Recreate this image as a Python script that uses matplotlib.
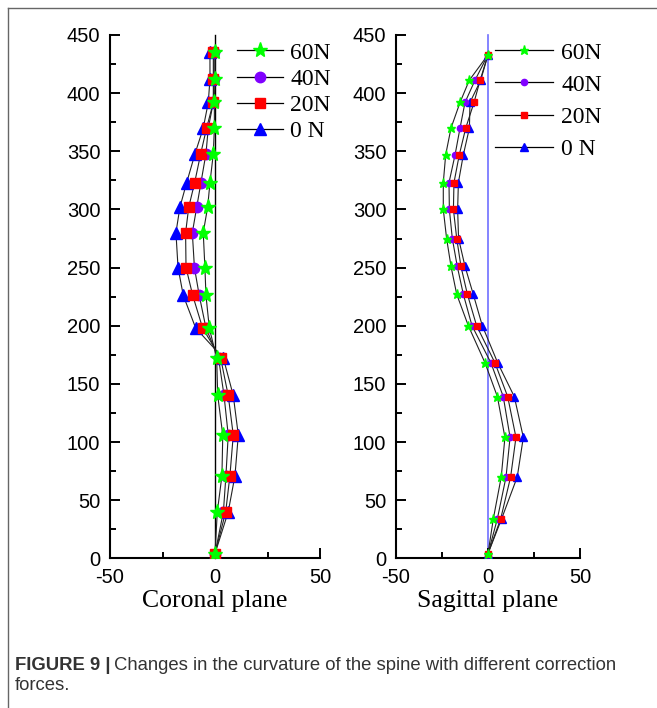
import matplotlib
matplotlib.use("Agg")
import matplotlib.pyplot as plt
from matplotlib.lines import Line2D

plt.rcParams["axes.unicode_minus"] = False

# ---------------- data ----------------
labels = ["60N", "40N", "20N", "0 N"]

cor_y = [435, 412, 392, 370, 348, 323, 302, 280, 250, 226, 198, 172, 140, 106, 71, 40, 4]
cor_60 = [0, 0, -0.3, -0.3, -0.8, -2.4, -3.5, -5.6, -4.8, -4.3, -2.7, 0.8, 1.3, 3.7, 3.3, 1.1, 0]
cor_40 = [-0.5, -0.5, -0.8, -3.2, -4.3, -6.7, -8.7, -10.8, -9.8, -7.5, -4.3, 1.7, 4.3, 6.3, 5.2, 4.0, 0]
cor_20 = [-0.8, -0.8, -0.8, -4.0, -6.8, -9.7, -12.5, -14.0, -13.8, -10.6, -5.9, 2.7, 6.3, 8.7, 7.1, 5.1, 0]
cor_0 = [-2.4, -2.4, -3.2, -5.6, -9.5, -13.5, -16.7, -18.6, -17.6, -15.1, -9.2, 4.0, 8.7, 11.1, 9.5, 6.3, 0]

sag_y = [433, 411, 392, 370, 347, 323, 300, 275, 251, 227, 200, 168, 139, 104, 70, 34, 4]
sag_60 = [0, -10.2, -15.2, -20.1, -23.0, -24.3, -24.3, -22.5, -20.1, -17.0, -10.7, -1.6, 5.1, 9.2, 7.2, 2.9, 0]
sag_40 = [0, -7.1, -12.5, -15.2, -17.9, -21.2, -21.0, -19.4, -16.7, -13.4, -8.7, 1.6, 8.3, 12.0, 9.8, 5.1, 0]
sag_20 = [0, -4.3, -7.6, -12.1, -15.6, -18.5, -18.8, -17.0, -14.7, -11.2, -6.2, 3.8, 10.7, 15.2, 12.3, 6.9, 0]
sag_0 = [0, -4.0, -9.8, -10.1, -13.4, -16.1, -16.5, -16.0, -12.5, -8.0, -3.1, 5.3, 14.3, 19.2, 15.9, 7.4, 0]

x_ticks = [-50, 0, 50]
y_ticks = [0, 50, 100, 150, 200, 250, 300, 350, 400, 450]

# ---------------- style ----------------
W, H = 657, 708
DPI = 100
colors = ["#00ff00", "#8000ff", "#ff0000", "#0000ff"]
markers = ["*", "o", "s", "^"]
sizes_big = [11, 7.5, 7, 8.5]
sizes_small = [6.5, 4.5, 4.5, 5.5]
draw_order = [3, 1, 2, 0]  # 0N first, 60N on top

sans = ["Liberation Sans", "DejaVu Sans"]
serif = ["Liberation Serif", "DejaVu Serif"]

fig = plt.figure(figsize=(W / DPI, H / DPI), dpi=DPI)


def px_axes(x0, x1, ytop, ybot):
    return fig.add_axes([x0 / W, 1 - ybot / H, (x1 - x0) / W, (ybot - ytop) / H])


def style_axes(ax):
    ax.set_xlim(-50, 50)
    ax.set_ylim(0, 450)
    for s in ["top", "right"]:
        ax.spines[s].set_visible(False)
    for s in ["left", "bottom"]:
        ax.spines[s].set_linewidth(1.5)
    ax.set_xticks(x_ticks)
    ax.set_yticks(y_ticks)
    ax.set_xticks([-25, 25], minor=True)
    ax.set_yticks([25 + 50 * i for i in range(9)], minor=True)
    ax.tick_params(which="major", direction="in", length=7.2, width=1.4,
                   labelsize=14.5, pad=7)
    ax.tick_params(which="minor", direction="in", length=4.3, width=1.4)
    for lab in ax.get_xticklabels() + ax.get_yticklabels():
        lab.set_family(sans)
    ax.patch.set_alpha(0)


axL = px_axes(110, 320, 35, 558.3)
axR = px_axes(396, 580, 35, 558.3)

# zero lines
axL.plot([0, 0], [0, 450], color="black", lw=1.0, zorder=1, clip_on=False)
axR.plot([0, 0], [0, 450], color="#6f6fff", lw=1.2, zorder=1, clip_on=False)

series_L = [cor_60, cor_40, cor_20, cor_0]
series_R = [sag_60, sag_40, sag_20, sag_0]

handlesL, handlesR = [None] * 4, [None] * 4
for i in draw_order:
    axL.plot(series_L[i], cor_y, color="#222222", lw=0.8, zorder=2)
    axL.plot(series_L[i], cor_y, linestyle="none", marker=markers[i],
             ms=sizes_big[i], mfc=colors[i], mec=colors[i], zorder=3)
    axR.plot(series_R[i], sag_y, color="#222222", lw=0.8, zorder=2)
    axR.plot(series_R[i], sag_y, linestyle="none", marker=markers[i],
             ms=sizes_small[i], mfc=colors[i], mec=colors[i], zorder=3)
    handlesL[i] = Line2D([], [], color="black", lw=0.9, marker=markers[i],
                         ms=sizes_big[i], mfc=colors[i], mec=colors[i])
    handlesR[i] = Line2D([], [], color="black", lw=0.9, marker=markers[i],
                         ms=sizes_small[i], mfc=colors[i], mec=colors[i])

for ax in (axL, axR):
    style_axes(ax)

axL.set_xlabel("Coronal plane", family=serif, fontsize=18.5, labelpad=2)
axR.set_xlabel("Sagittal plane", family=serif, fontsize=18.5, labelpad=2)

fig.legend(handlesL, labels, loc="upper left",
           bbox_to_anchor=(237 / W, 1 - 42 / H), frameon=False,
           prop={"family": serif, "size": 17}, handlelength=1.95,
           handletextpad=0.3, labelspacing=0.2, borderpad=0,
           borderaxespad=0)
fig.legend(handlesR, labels, loc="upper left",
           bbox_to_anchor=(495 / W, 1 - 42 / H), frameon=False,
           prop={"family": serif, "size": 17}, handlelength=2.45,
           handletextpad=0.35, labelspacing=0.45, borderpad=0,
           borderaxespad=0)

# page frame lines (left and top)
fig.add_artist(Line2D([8 / W, 8 / W], [0, 1 - 8 / H], color="#666666", lw=1.0,
                      transform=fig.transFigure))
fig.add_artist(Line2D([8 / W, 1], [1 - 8 / H, 1 - 8 / H], color="#666666", lw=1.0,
                      transform=fig.transFigure))

# caption
cap_color = "#333333"
cap_size = 13.3
t1 = fig.text(15 / W, 1 - 665 / H, "FIGURE 9 |", family=sans, fontsize=cap_size,
              fontweight="bold", color=cap_color, va="center", ha="left")
fig.canvas.draw()
bb = t1.get_window_extent()
fig.text((bb.x1 + 4) / W, 1 - 665 / H,
         "Changes in the curvature of the spine with different correction",
         family=sans, fontsize=cap_size, color=cap_color, va="center", ha="left")
fig.text(15 / W, 1 - 686 / H, "forces.", family=sans, fontsize=cap_size,
         color=cap_color, va="center", ha="left")

fig.savefig("out.png", dpi=DPI)
